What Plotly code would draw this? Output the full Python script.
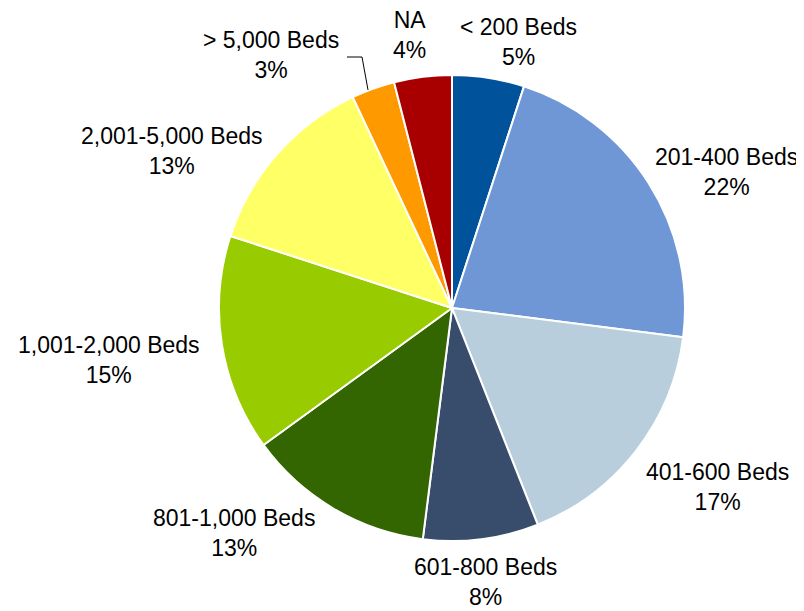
"""Hospital size distribution pie (share of facilities by bed count)."""

import plotly.graph_objects as go

# ── Data (clockwise from 12 o'clock) ──────────────────────────────────────────
LABELS = [
    "< 200 Beds",
    "201-400 Beds",
    "401-600 Beds",
    "601-800 Beds",
    "801-1,000 Beds",
    "1,001-2,000 Beds",
    "2,001-5,000 Beds",
    "> 5,000 Beds",
    "NA",
]
SHARES = [5, 22, 17, 8, 13, 15, 13, 3, 4]

COLOURS = [
    "#00529B",   # dark blue
    "#6F97D5",   # mid blue
    "#B8CEDC",   # pale blue-grey
    "#384D6C",   # slate
    "#336600",   # dark green
    "#99CC00",   # lime
    "#FFFF66",   # yellow
    "#FF9900",   # orange
    "#A80000",   # dark red
]

# Label block centres in screen pixels (Excel-style placement around the pie)
LABEL_POS_PX = [
    (518, 42), (726, 172), (717, 487), (485, 582), (234, 533),
    (109, 360), (172, 151), (271, 55), (409, 35),
]

W, H = 804, 611
OFF = 8          # the page body adds an 8px margin before the plot div
FONT = dict(family="Liberation Sans, Arial, sans-serif", size=23, color="#000000")


def to_paper(px, py):
    """Screen pixel -> paper coords, allowing for the body margin."""
    return (px - OFF) / W, 1 - (py - OFF) / H


# pie: centre (452, 308), radius 233 in screen pixels
x0, y1 = to_paper(452 - 233, 308 - 233)
x1, y0 = to_paper(452 + 233, 308 + 233)

fig = go.Figure(
    go.Pie(
        labels=LABELS,
        values=SHARES,
        sort=False,
        direction="clockwise",
        rotation=0,
        marker=dict(colors=COLOURS, line=dict(color="#FFFFFF", width=2)),
        textinfo="none",
        hoverinfo="label+percent",
        showlegend=False,
        domain=dict(x=[x0, x1], y=[y0, y1]),
    )
)

total = sum(SHARES)
for lab, val, (px, py) in zip(LABELS, SHARES, LABEL_POS_PX):
    ax, ay = to_paper(px, py)
    fig.add_annotation(
        x=ax, y=ay,
        xref="paper", yref="paper",
        text=f"{lab}<br>{val / total * 100:.0f}%",
        showarrow=False,
        font=FONT,
        align="center",
        xanchor="center", yanchor="middle",
    )

# leader line for the small "> 5,000 Beds" slice
pts = [to_paper(x, y) for x, y in [(347, 57), (362, 57), (368, 90)]]
path = "M " + " L ".join(f"{x:.4f},{y:.4f}" for x, y in pts)
fig.add_shape(
    type="path", path=path, xref="paper", yref="paper",
    line=dict(color="#000000", width=1),
)

fig.update_layout(
    width=W, height=H,
    margin=dict(l=0, r=0, t=0, b=0),
    paper_bgcolor="#FFFFFF",
    plot_bgcolor="#FFFFFF",
)

fig.write_html("out.html")
